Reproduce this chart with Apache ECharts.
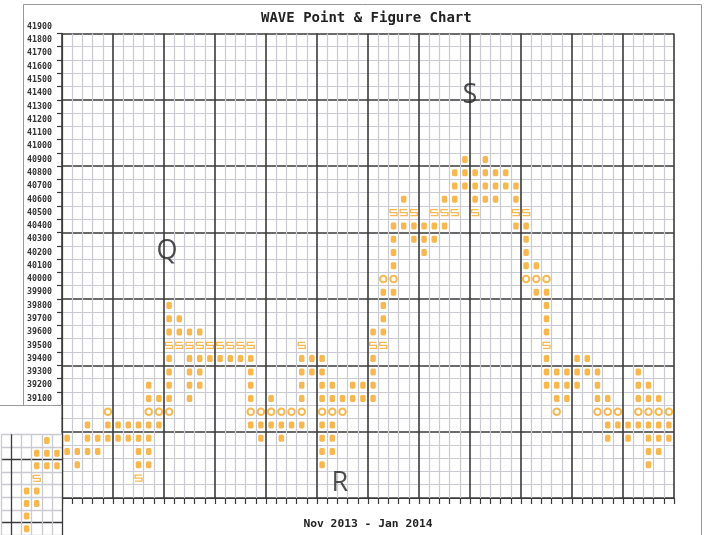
<!DOCTYPE html>
<html>
<head>
<meta charset="utf-8">
<title>WAVE Point & Figure Chart</title>
<script src="https://cdn.jsdelivr.net/npm/echarts@6.0.0/dist/echarts.min.js"></script>
<style>
  html, body { margin: 0; padding: 0; background: #fff; }
  #chart { width: 709px; height: 535px; }
</style>
</head>
<body>
<div id="chart"></div>
<script>
// one P&F column per entry: lowest and highest box price
const colLow  = [38700, 38600, 38700, 38700, 38800, 38800, 38800, 38500, 38600, 38900,
                 39000, 39500, 39100, 39200, 39400, 39400, 39400, 39400, 38900, 38800,
                 38900, 38800, 38900, 38900, 39300, 38600, 38700, 39000, 39100, 39100,
                 39100, 39500, 39900, 40400, 40300, 40200, 40300, 40400, 40500, 40700,
                 40500, 40600, 40600, 40700, 40400, 40000, 39900, 39200, 39000, 39100,
                 39200, 39300, 39000, 38800, 38900, 38800, 38900, 38600, 38700, 38800];
const colHigh = [38800, 38700, 38900, 38800, 39000, 38900, 38900, 38900, 39200, 39100,
                 39800, 39700, 39600, 39600, 39500, 39500, 39500, 39500, 39500, 39000,
                 39100, 39000, 39000, 39500, 39400, 39400, 39200, 39100, 39200, 39200,
                 39600, 40000, 40500, 40600, 40500, 40400, 40500, 40600, 40800, 40900,
                 40800, 40900, 40800, 40800, 40700, 40500, 40100, 40000, 39300, 39300,
                 39400, 39400, 39300, 39100, 39000, 38900, 39300, 39200, 39100, 39000];

// the stray strip pasted at the bottom-left corner
const stripCols = [-4, -3, -2, -1];
const stripLow  = [38100, 38300, 38600, 38600];
const stripHigh = [38400, 38700, 38800, 38700];

const priceLabels = ['41900', '41800', '41700', '41600', '41500', '41400', '41300', '41200',
                     '41100', '41000', '40900', '40800', '40700', '40600', '40500', '40400',
                     '40300', '40200', '40100', '40000', '39900', '39800', '39700', '39600',
                     '39500', '39400', '39300', '39200', '39100'];

const notes = ['Q', 'R', 'S'];
const noteCols = [10.3, 27.25, 40.0];
const notePrices = [40210, 38460, 41380];

const BOX = 100;
const BASE = 38350;        // bottom edge of main grid
const STRIP_BASE = 38050;  // bottom edge of the strip grid
const ORANGE = '#f6a623';
const S_PATH = 'path://M8,0L0,0L0,3.5L8,3.5L8,7L0,7';

// split each column into its boxes; round thousands get a ring, x500 an S
function boxes(cols, lows, highs, base) {
  const dot = [], ring = [], ess = [];
  lows.forEach((lo, i) => {
    for (let p = lo; p <= highs[i]; p += BOX) {
      const pt = [cols[i] + 0.5, (p - base) / BOX];
      if (p % 1000 === 0) ring.push(pt);
      else if (p % 500 === 0) ess.push(pt);
      else dot.push(pt);
    }
  });
  return { dot, ring, ess };
}

const main = boxes(colLow.map((_, i) => i), colLow, colHigh, BASE);
const strip = boxes(stripCols, stripLow, stripHigh, STRIP_BASE);

const mono = 'DejaVu Sans Mono';
const dark = '#3a3a3a';
const light = '#c9cad2';

function markSeries(set, xi, z) {
  return [
    { type: 'scatter', xAxisIndex: xi, yAxisIndex: xi, z: z, symbol: 'roundRect', symbolSize: [5.5, 7],
      itemStyle: { color: ORANGE }, data: set.dot },
    { type: 'scatter', xAxisIndex: xi, yAxisIndex: xi, z: z, symbol: 'emptyCircle', symbolSize: 6.5,
      itemStyle: { color: ORANGE, borderWidth: 1 }, data: set.ring },
    { type: 'scatter', xAxisIndex: xi, yAxisIndex: xi, z: z, symbol: S_PATH, symbolSize: [7, 6],
      itemStyle: { color: 'rgba(0,0,0,0)', borderColor: ORANGE, borderWidth: 1.2 }, data: set.ess }
  ];
}

const chart = echarts.init(document.getElementById('chart'));
chart.setOption({
  animation: false,
  backgroundColor: '#fff',
  title: {
    text: 'WAVE Point & Figure Chart',
    left: 256, top: 6,
    textStyle: { fontFamily: mono, fontSize: 14, fontWeight: 'bold', color: '#222' }
  },
  grid: [
    { left: 62, top: 33.4, width: 612, height: 464.8 },
    { left: 1.3, top: 434.3, width: 60.7, height: 100.8, show: true, backgroundColor: '#fff', borderWidth: 0, z: 5 },
    { left: 62, top: 20.1, width: 10, height: 385.1 }
  ],
  xAxis: [
    {
      type: 'value', gridIndex: 0, min: 0, max: 60, interval: 5,
      axisLine: { show: true, lineStyle: { color: dark, width: 1.2 } },
      axisTick: { show: true, length: 6, lineStyle: { color: dark, width: 1.2 } },
      minorTick: { show: true, splitNumber: 5, length: 6, lineStyle: { color: dark, width: 1.2 } },
      axisLabel: { show: false },
      splitLine: { show: true, lineStyle: { color: dark, width: 1.6 } },
      minorSplitLine: { show: true, lineStyle: { color: light, width: 1.2 } },
      name: 'Nov 2013 - Jan 2014', nameLocation: 'middle', nameGap: 21,
      nameTextStyle: { fontFamily: mono, fontSize: 11.3, fontWeight: 'bold', color: '#222' }
    },
    {
      type: 'value', gridIndex: 1, min: -6, max: 0, interval: 1, z: 6,
      axisLine: { show: false }, axisTick: { show: false }, axisLabel: { show: false },
      splitLine: { show: true, lineStyle: { color: [light, dark, light, light, light, light, dark], width: 1.3 } }
    },
    { type: 'value', gridIndex: 2, show: false }
  ],
  yAxis: [
    {
      type: 'value', gridIndex: 0, min: 0, max: 35, interval: 5,
      axisLine: { show: true, lineStyle: { color: dark, width: 1.2 } },
      axisTick: { show: true, length: 5, lineStyle: { color: dark, width: 1.2 } },
      minorTick: { show: true, splitNumber: 5, length: 5, lineStyle: { color: dark, width: 1.2 } },
      axisLabel: { show: false },
      splitLine: { show: true, lineStyle: { color: dark, width: 1.6 } },
      minorSplitLine: { show: true, lineStyle: { color: light, width: 1.2 } }
    },
    {
      type: 'value', gridIndex: 1, min: 0, max: 8, interval: 1, z: 6,
      axisLine: { show: false }, axisTick: { show: false }, axisLabel: { show: false },
      splitLine: { show: true, lineStyle: { color: [light, dark, light, light, light, light, dark, light, light], width: 1.3 } }
    },
    {
      type: 'category', gridIndex: 2, inverse: true, data: priceLabels,
      axisLine: { show: false }, axisTick: { show: false }, splitLine: { show: false },
      axisLabel: { margin: 10, fontFamily: mono, fontSize: 8.3, fontWeight: 'bold', color: '#333' }
    }
  ],
  series: [
    ...markSeries(main, 0, 3),
    ...markSeries(strip, 1, 8),
    {
      type: 'scatter', xAxisIndex: 0, yAxisIndex: 0, z: 4, symbolSize: 1,
      itemStyle: { color: 'rgba(0,0,0,0)' },
      label: {
        show: true, position: 'inside', fontFamily: 'Open Sans', fontSize: 27, color: '#222',
        formatter: p => notes[p.dataIndex]
      },
      data: noteCols.map((c, i) => [c, (notePrices[i] - BASE) / BOX])
    }
  ],
  graphic: [
    { type: 'rect', z: 4, shape: { x: 0, y: 406, width: 61.3, height: 28.5 }, style: { fill: '#fff' } },
    { type: 'line', z: 10, shape: { x1: 23.5, y1: 4.5, x2: 701.5, y2: 4.5 }, style: { stroke: '#999', lineWidth: 1 } },
    { type: 'line', z: 10, shape: { x1: 23.5, y1: 4.5, x2: 23.5, y2: 405.5 }, style: { stroke: '#999', lineWidth: 1 } },
    { type: 'line', z: 10, shape: { x1: 0, y1: 405.5, x2: 62, y2: 405.5 }, style: { stroke: '#999', lineWidth: 1 } },
    { type: 'line', z: 10, shape: { x1: 701.5, y1: 4.5, x2: 701.5, y2: 535 }, style: { stroke: '#999', lineWidth: 1 } }
  ]
});
</script>
</body>
</html>
